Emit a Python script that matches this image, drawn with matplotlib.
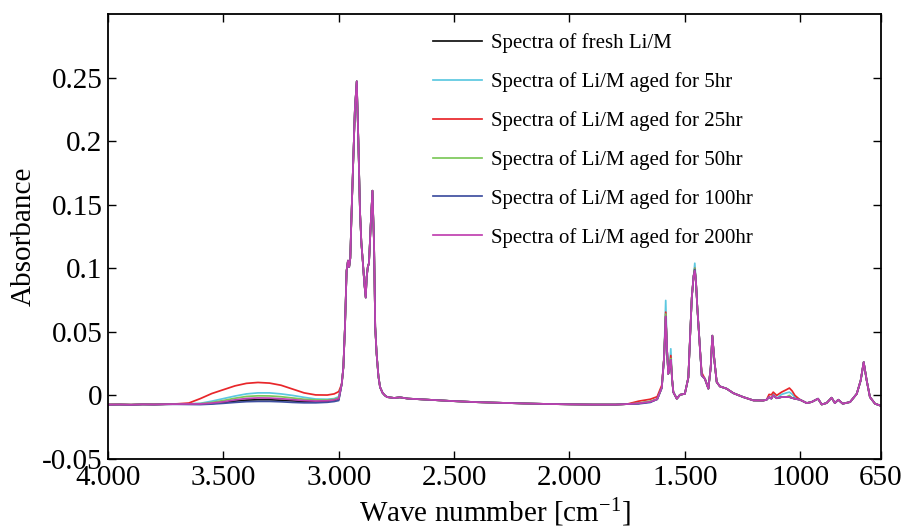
import matplotlib
matplotlib.use("Agg")
import matplotlib.pyplot as plt
import numpy as np

plt.rcParams['font.family'] = ['Liberation Serif', 'DejaVu Serif']
plt.rcParams['mathtext.default'] = 'regular'

# ---------------- data ----------------
labels = ["Spectra of fresh Li/M",
          "Spectra of Li/M aged for 5hr",
          "Spectra of Li/M aged for 25hr",
          "Spectra of Li/M aged for 50hr",
          "Spectra of Li/M aged for 100hr",
          "Spectra of Li/M aged for 200hr"]
keys = ["fresh", "5hr", "25hr", "50hr", "100hr", "200hr"]
colors = ["#111111", "#5cc8e0", "#e8262a", "#7cc85a", "#3f4fa0", "#c040b0"]

# O-H hump region (per series)
wn_hump = [4000, 3950, 3900, 3850, 3800, 3750, 3700, 3650, 3600, 3550, 3500,
           3450, 3400, 3350, 3300, 3250, 3200, 3150, 3100, 3050, 3020, 3000]
hump_fresh = [-0.0072, -0.0071, -0.0073, -0.0070, -0.0071, -0.0069, -0.0068, -0.0067,
              -0.0068, -0.0063, -0.0056, -0.0045, -0.0037, -0.0034, -0.0034, -0.0038,
              -0.0043, -0.0048, -0.0050, -0.0046, -0.0040, -0.0030]
hump_5hr = [-0.0072, -0.0071, -0.0073, -0.0070, -0.0071, -0.0069, -0.0068, -0.0066,
            -0.0062, -0.0045, -0.0025, -0.0005, 0.0012, 0.0020, 0.0020, 0.0012,
            0.0000, -0.0015, -0.0028, -0.0030, -0.0025, -0.0010]
hump_25hr = [-0.0072, -0.0071, -0.0073, -0.0070, -0.0071, -0.0069, -0.0066, -0.0060,
             -0.0025, 0.0015, 0.0045, 0.0075, 0.0095, 0.0102, 0.0097, 0.0080,
             0.0050, 0.0020, 0.0004, 0.0003, 0.0012, 0.0030]
hump_50hr = [-0.0072, -0.0071, -0.0073, -0.0070, -0.0071, -0.0069, -0.0068, -0.0067,
             -0.0065, -0.0055, -0.0040, -0.0022, -0.0008, -0.0003, -0.0004, -0.0010,
             -0.0020, -0.0030, -0.0036, -0.0036, -0.0030, -0.0018]
hump_100hr = [-0.0073, -0.0072, -0.0074, -0.0071, -0.0072, -0.0070, -0.0070, -0.0071,
              -0.0072, -0.0068, -0.0062, -0.0055, -0.0049, -0.0047, -0.0047, -0.0050,
              -0.0055, -0.0058, -0.0058, -0.0054, -0.0048, -0.0040]
hump_200hr = [-0.0072, -0.0071, -0.0073, -0.0070, -0.0071, -0.0069, -0.0068, -0.0067,
              -0.0067, -0.0060, -0.0050, -0.0035, -0.0024, -0.0020, -0.0021, -0.0026,
              -0.0033, -0.0040, -0.0044, -0.0042, -0.0035, -0.0025]

# C-H stretch region and flat baseline (shared by all series)
wn_ch = [2987, 2980, 2973, 2966, 2960, 2955, 2950, 2945, 2937, 2930, 2922, 2915,
         2908, 2902, 2896, 2889, 2883, 2879, 2874, 2869, 2862, 2854, 2847, 2842,
         2836, 2828, 2821, 2810, 2800, 2790, 2760, 2735, 2700, 2600, 2500, 2400,
         2300, 2200, 2100, 2000, 1900, 1800, 1750]
ab_ch = [0.009, 0.022, 0.054, 0.098, 0.106, 0.101, 0.108, 0.140, 0.185, 0.225, 0.247, 0.200,
         0.145, 0.120, 0.106, 0.088, 0.077, 0.093, 0.101, 0.104, 0.132, 0.161, 0.119, 0.054,
         0.033, 0.015, 0.0065, 0.002, 0.000, -0.0013, -0.0020, -0.0015, -0.0025, -0.0035,
         -0.0045, -0.0053, -0.0058, -0.0063, -0.0067, -0.0070, -0.0072, -0.0072, -0.0068]

# fingerprint region (common values + per-series readings where lines separate)
wn_fp = [1700, 1650, 1620, 1600, 1590, 1583, 1577, 1572, 1566, 1561, 1555, 1550,
         1535, 1521, 1500, 1485, 1470, 1462, 1457, 1452, 1446, 1434, 1427, 1413,
         1398, 1388, 1381, 1372, 1362, 1348, 1319, 1290, 1247, 1203, 1160, 1146,
         1135, 1125, 1117, 1102, 1081, 1060, 1047, 1035, 1023, 1001, 972, 951,
         923, 907, 886, 864, 850, 835, 816, 784, 755, 738, 725, 712, 698, 676, 654, 650]
fp_common = [-0.0062, -0.0050, -0.0030, 0.0060, 0.030, 0.062, 0.035, 0.017, 0.022, 0.028,
             0.012, 0.0026, -0.0026, 0.0005, 0.0013, 0.014, 0.077, 0.094, 0.099, 0.090,
             0.069, 0.035, 0.0157, 0.013, 0.0053, 0.022, 0.047, 0.0275, 0.0105, 0.0071,
             0.0053, 0.0018, -0.0013, -0.0039, -0.0040, -0.0034, -0.0013, -0.0025, 0.0000,
             -0.0022, -0.0013, -0.0012, -0.0013, -0.0020, -0.0026, -0.0034, -0.0060,
             -0.0052, -0.0026, -0.0071, -0.0060, -0.0018, -0.0060, -0.0034, -0.0065,
             -0.0052, 0.0013, 0.0118, 0.0262, 0.0118, -0.0013, -0.0065, -0.0079, -0.0082]
fp_fresh = {}
fp_5hr = {1583: 0.0747, 1561: 0.0367, 1457: 0.104, 1117: 0.0010, 1081: 0.0008,
          1060: 0.0020, 1047: 0.0026, 1035: 0.0010, 1023: -0.0015}
fp_25hr = {1700: -0.0045, 1650: -0.0030, 1620: -0.0010, 1600: 0.008, 1583: 0.0655,
           1561: 0.0314, 1457: 0.100, 1427: 0.018, 1135: 0.0008, 1125: 0.0005,
           1117: 0.0026, 1102: 0.0000, 1081: 0.0026, 1060: 0.0045, 1047: 0.0058,
           1035: 0.0035, 1023: 0.0000}
fp_50hr = {1650: -0.0045, 1583: 0.064, 1561: 0.029, 1457: 0.100, 1047: 0.000}
fp_100hr = {1700: -0.0066, 1650: -0.0055}
fp_200hr = {1457: 0.098}

humps = [hump_fresh, hump_5hr, hump_25hr, hump_50hr, hump_100hr, hump_200hr]
fps = [fp_fresh, fp_5hr, fp_25hr, fp_50hr, fp_100hr, fp_200hr]

xticks = [4000, 3500, 3000, 2500, 2000, 1500, 1000, 650]
xticklabels = ["4.000", "3.500", "3.000", "2.500", "2.000", "1.500", "1000", "650"]
yticks = [-0.05, 0, 0.05, 0.1, 0.15, 0.2, 0.25]
yticklabels = ["-0.05", "0", "0.05", "0.1", "0.15", "0.2", "0.25"]

# ---------------- figure ----------------
fig = plt.figure(figsize=(9.05, 5.27), dpi=100)
ax = fig.add_axes([108/905, 1-459/527, (881-108)/905, (459-14)/527])

for key, lab, col, hump, fp in zip(keys, labels, colors, humps, fps):
    x = list(wn_hump) + list(wn_ch) + list(wn_fp)
    y = list(hump) + list(ab_ch) + [fp.get(w, c) for w, c in zip(wn_fp, fp_common)]
    ax.plot(x, y, color=col, lw=1.25, label=lab)

ax.set_xlim(4000, 650)
ax.set_ylim(-0.05, 0.3)
ax.set_xticks(xticks)
ax.set_xticklabels(xticklabels)
ax.set_yticks(yticks)
ax.set_yticklabels(yticklabels)
ax.tick_params(direction='in', length=6, width=1, labelsize=21, top=True, right=True, pad=4)
for s in ax.spines.values():
    s.set_linewidth(1.3)

ax.set_xlabel("Wave nummber [cm$^{-1}$]", fontsize=21, labelpad=4)
ax.set_ylabel("Absorbance", fontsize=21, labelpad=4)

leg = ax.legend(loc='upper left', bbox_to_anchor=((425-108)/773, 1 - 11/445), fontsize=15,
                frameon=False, borderaxespad=0.0, borderpad=0.4,
                handlelength=2.35, handletextpad=0.4, labelspacing=0.91)

fig.savefig("out.png", dpi=100)
